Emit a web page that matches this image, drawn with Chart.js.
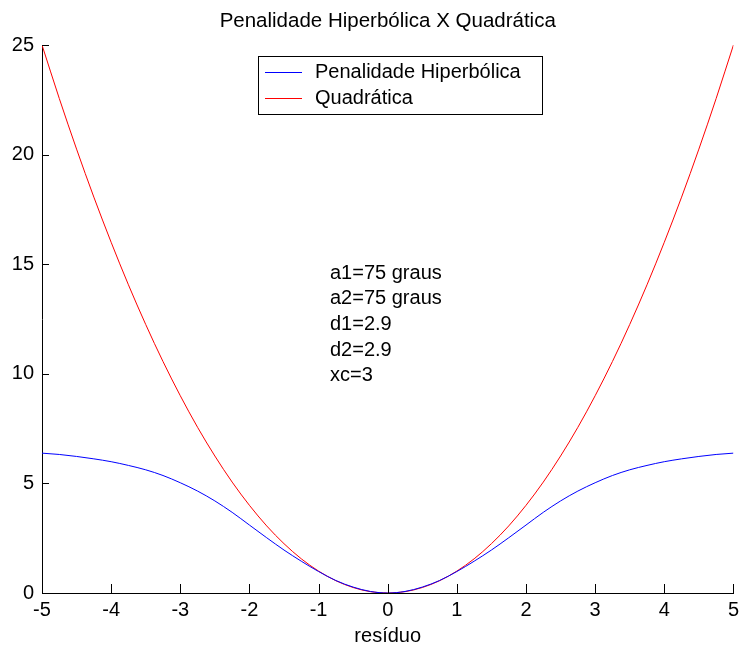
<!DOCTYPE html>
<html>
<head>
<meta charset="utf-8">
<script src="https://cdn.jsdelivr.net/npm/chart.js@4.4.0/dist/chart.umd.min.js"></script>
<style>
  html, body { margin: 0; padding: 0; background: #fff; }
  #chart { display: block; }
</style>
</head>
<body>
<canvas id="chart" width="744" height="649"></canvas>
<script>
// residual values (x axis)
const residuals = [-5, -4.75, -4.5, -4.25, -4, -3.75, -3.5, -3.25, -3, -2.75, -2.5, -2.25, -2, -1.75, -1.5, -1.25, -1, -0.75, -0.5, -0.25,
    0, 0.25, 0.5, 0.75, 1, 1.25, 1.5, 1.75, 2, 2.25, 2.5, 2.75, 3, 3.25, 3.5, 3.75, 4, 4.25, 4.5, 4.75, 5];

const hyperbolic = [6.38, 6.32, 6.23, 6.12, 5.99, 5.82, 5.62, 5.36, 5.03, 4.65, 4.2, 3.68, 3.1, 2.52, 1.96, 1.45, 0.98, 0.57, 0.27, 0.07,
    0, 0.07, 0.27, 0.57, 0.98, 1.45, 1.96, 2.52, 3.1, 3.68, 4.2, 4.65, 5.03, 5.36, 5.62, 5.82, 5.99, 6.12, 6.23, 6.32, 6.38];
const quadratic = [25, 22.56, 20.25, 18.06, 16, 14.06, 12.25, 10.56, 9, 7.56, 6.25, 5.06, 4, 3.06, 2.25, 1.56, 1, 0.56, 0.25, 0.06,
    0, 0.06, 0.25, 0.56, 1, 1.56, 2.25, 3.06, 4, 5.06, 6.25, 7.56, 9, 10.56, 12.25, 14.06, 16, 18.06, 20.25, 22.56, 25];

const seriesNames = ['Penalidade Hiperbólica', 'Quadrática'];
const seriesColors = ['#0000ff', '#ff0000'];
const xTicks = [-5, -4, -3, -2, -1, 0, 1, 2, 3, 4, 5];
const yTicks = [0, 5, 10, 15, 20, 25];
const noteLines = ['a1=75 graus', 'a2=75 graus', 'd1=2.9', 'd2=2.9', 'xc=3'];
const chartTitle = 'Penalidade Hiperbólica X Quadrática';

const FONT = '"Liberation Sans", Arial, sans-serif';
Chart.defaults.font.family = FONT;
Chart.defaults.font.size = 20;
Chart.defaults.color = '#000';

function toPoints(ys) {
    return residuals.map((x, i) => ({ x: x, y: ys[i] }));
}

// title over the plot area, inward tick marks, boxed legend and parameter notes
const extras = {
    id: 'extras',
    afterDraw(chart) {
        const ctx = chart.ctx;
        const xs = chart.scales.x, ys = chart.scales.y;
        const area = chart.chartArea;
        ctx.save();

        ctx.fillStyle = '#000';
        ctx.font = '20.5px ' + FONT;
        ctx.textAlign = 'center';
        ctx.textBaseline = 'middle';
        ctx.fillText(chartTitle, (area.left + area.right) / 2, 21);

        ctx.strokeStyle = '#000';
        ctx.lineWidth = 1;
        ctx.beginPath();
        xTicks.forEach(v => {
            const px = Math.round(xs.getPixelForValue(v)) + 0.5;
            ctx.moveTo(px, area.bottom);
            ctx.lineTo(px, area.bottom - 9);
        });
        yTicks.forEach(v => {
            const py = Math.round(ys.getPixelForValue(v)) + 0.5;
            ctx.moveTo(area.left, py);
            ctx.lineTo(area.left + 7, py);
        });
        ctx.stroke();

        // legend
        const box = { left: 258, top: 56, width: 284, height: 58 };
        ctx.fillStyle = '#fff';
        ctx.fillRect(box.left, box.top, box.width, box.height);
        ctx.strokeStyle = '#000';
        ctx.strokeRect(box.left + 0.5, box.top + 0.5, box.width, box.height);
        ctx.font = '20px ' + FONT;
        ctx.textAlign = 'left';
        chart.data.datasets.forEach((ds, i) => {
            const y = box.top + 16 + i * 26;
            ctx.strokeStyle = ds.borderColor;
            ctx.beginPath();
            ctx.moveTo(box.left + 7, y + 0.5);
            ctx.lineTo(box.left + 44, y + 0.5);
            ctx.stroke();
            ctx.fillStyle = '#000';
            ctx.fillText(ds.label, box.left + 57, y);
        });

        // parameter notes
        noteLines.forEach((t, i) => {
            ctx.fillText(t, 330, 273 + i * 25.7);
        });
        ctx.restore();
    }
};

new Chart(document.getElementById('chart'), {
    type: 'scatter',
    data: {
        datasets: [
            {
                label: seriesNames[0],
                data: toPoints(hyperbolic),
                showLine: true,
                borderColor: seriesColors[0],
                borderWidth: 1,
                pointRadius: 0,
                cubicInterpolationMode: 'monotone'
            },
            {
                label: seriesNames[1],
                data: toPoints(quadratic),
                showLine: true,
                borderColor: seriesColors[1],
                borderWidth: 1,
                pointRadius: 0,
                cubicInterpolationMode: 'monotone'
            }
        ]
    },
    options: {
        responsive: false,
        animation: false,
        layout: { padding: { left: 0, right: 9, top: 45, bottom: 0 } },
        plugins: {
            legend: { display: false },
            tooltip: { enabled: false },
            title: { display: false }
        },
        scales: {
            x: {
                type: 'linear',
                min: -5,
                max: 5,
                afterBuildTicks: scale => { scale.ticks = xTicks.map(v => ({ value: v })); },
                afterFit: scale => { scale.height = 56; },
                grid: { display: true, drawOnChartArea: false, drawTicks: false },
                border: { display: true, color: '#000', width: 1 },
                ticks: { padding: 5, font: { size: 20 }, color: '#000' },
                title: { display: true, text: 'resíduo', font: { size: 20 }, color: '#000', padding: { top: 1, bottom: 1 } }
            },
            y: {
                type: 'linear',
                min: 0,
                max: 25,
                afterBuildTicks: scale => { scale.ticks = yTicks.map(v => ({ value: v })); },
                afterFit: scale => { scale.width = 42; },
                grid: { display: true, drawOnChartArea: false, drawTicks: false },
                border: { display: true, color: '#000', width: 1 },
                ticks: { padding: 8, font: { size: 20 }, color: '#000' }
            }
        }
    },
    plugins: [extras]
});
</script>
</body>
</html>
